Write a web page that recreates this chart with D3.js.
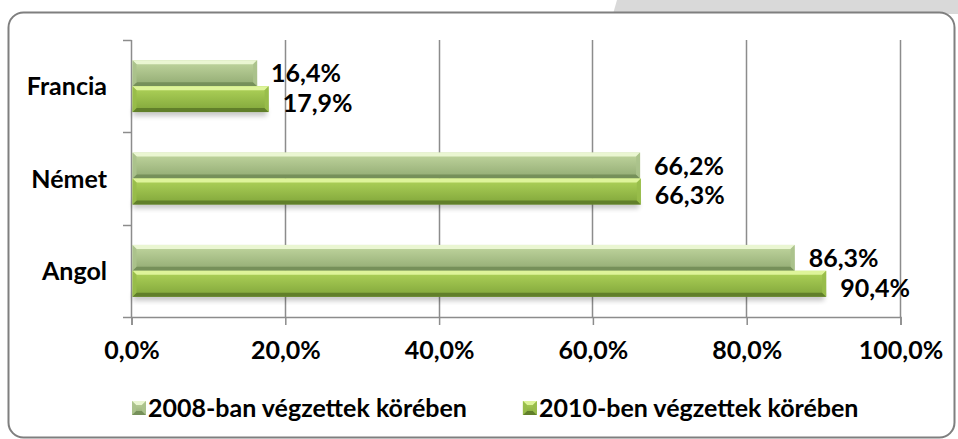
<!DOCTYPE html>
<html>
<head>
<meta charset="utf-8">
<script src="https://cdn.jsdelivr.net/npm/d3@7"></script>
<style>
  body { margin: 0; background: #fff; }
  svg { display: block; }
  text { font-family: Lato, "Open Sans", sans-serif; font-weight: 700; fill: #000; }
</style>
</head>
<body>
<div id="chart"></div>
<script>
const categories = ['Francia', 'Német', 'Angol'];
const series = ['2008-ban végzettek körében', '2010-ben végzettek körében'];
const values2008 = [16.4, 66.2, 86.3];
const values2010 = [17.9, 66.3, 90.4];
const xTicks = [0, 20, 40, 60, 80, 100];

const width = 958;
const height = 439;
const margin = { top: 40, right: 58, bottom: 122, left: 131 };
const innerW = width - margin.left - margin.right;
const innerH = height - margin.top - margin.bottom;
const fontSize = 25;

// bevel colours per series: top edge, face top, face bottom, bottom edge, side
const palette = [
  { hi: '#eaf6d2', f0: '#c2d7a0', f1: '#91aa72', lo: '#76905a', side: '#abc28c' },
  { hi: '#def49a', f0: '#b0d45a', f1: '#80a53a', lo: '#617f2a', side: '#98bd4a' },
];

const rows = categories.map((c, i) => ({
  category: c,
  values: [
    { key: series[0], s: 0, value: values2008[i] },
    { key: series[1], s: 1, value: values2010[i] },
  ],
}));

const svg = d3.select('#chart')
  .append('svg')
  .attr('width', width)
  .attr('height', height);

const defs = svg.append('defs');
palette.forEach((p, i) => {
  const g = defs.append('linearGradient')
    .attr('id', `face${i}`)
    .attr('x1', 0).attr('y1', 0).attr('x2', 0).attr('y2', 1);
  g.append('stop').attr('offset', '0%').attr('stop-color', p.f0);
  g.append('stop').attr('offset', '100%').attr('stop-color', p.f1);
});
defs.append('filter')
  .attr('id', 'shadow')
  .attr('x', '-10%').attr('y', '-50%').attr('width', '120%').attr('height', '200%')
  .append('feGaussianBlur')
  .attr('stdDeviation', 2.5);

// grey tab at top right + rounded frame
svg.append('path')
  .attr('d', 'M617,0 L958,0 L958,14 L613,14 Z')
  .attr('fill', '#d9d9d9');
svg.append('rect')
  .attr('x', 8.5).attr('y', 12.5)
  .attr('width', 946).attr('height', 425)
  .attr('rx', 15)
  .attr('fill', '#fff')
  .attr('stroke', '#7f7f7f')
  .attr('stroke-width', 2);

const plot = svg.append('g')
  .attr('transform', `translate(${margin.left}, ${margin.top})`);

const x = d3.scaleLinear()
  .domain([0, 100])
  .range([0, innerW]);

const y0 = d3.scaleBand()
  .domain(categories)
  .range([0, innerH]);

const y1 = d3.scaleBand()
  .domain(series)
  .range([0, y0.bandwidth()])
  .paddingOuter(0.78);

const fmt = v => d3.format('.1f')(v).replace('.', ',') + '%';

// gridlines
plot.append('g')
  .selectAll('line')
  .data(xTicks.slice(1))
  .join('line')
  .attr('x1', d => Math.round(x(d)) + 0.5)
  .attr('x2', d => Math.round(x(d)) + 0.5)
  .attr('y1', 0)
  .attr('y2', innerH)
  .attr('stroke', '#8c8c8c')
  .attr('stroke-width', 1.5);

// bottom axis
const axisBottom = d3.axisBottom(x)
  .tickValues(xTicks)
  .tickSize(8)
  .tickPadding(16)
  .tickFormat(fmt);

const gx = plot.append('g')
  .attr('transform', `translate(0.5, ${innerH})`)
  .call(axisBottom);
gx.select('.domain').attr('stroke', '#8c8c8c').attr('stroke-width', 1.5);
gx.selectAll('.tick line').attr('stroke', '#8c8c8c').attr('stroke-width', 1.5);
gx.selectAll('.tick text')
  .attr('font-size', fontSize)
  .attr('font-family', 'Lato, sans-serif')
  .attr('font-weight', 700)
  .attr('fill', '#000');

// left axis: ticks at band boundaries
const gy = plot.append('g');
gy.append('line')
  .attr('x1', 0.5).attr('x2', 0.5)
  .attr('y1', 0).attr('y2', innerH)
  .attr('stroke', '#8c8c8c').attr('stroke-width', 1.5);
gy.selectAll('.bnd')
  .data(categories.concat(['end']))
  .join('line')
  .attr('class', 'bnd')
  .attr('x1', -8).attr('x2', 0.5)
  .attr('y1', (d, i) => Math.round(i * y0.step()) + 0.5)
  .attr('y2', (d, i) => Math.round(i * y0.step()) + 0.5)
  .attr('stroke', '#8c8c8c').attr('stroke-width', 1.5);
gy.selectAll('.cat')
  .data(categories)
  .join('text')
  .attr('class', 'cat')
  .attr('x', -24)
  .attr('y', d => y0(d) + y0.bandwidth() / 2)
  .attr('dy', '0.36em')
  .attr('text-anchor', 'end')
  .attr('font-size', fontSize)
  .text(d => d);

// bars
function bevelBar(g, x0, yy, w, h, p, b, gradId) {
  const x1 = x0 + w;
  const y2 = yy + h;
  g.append('rect')
    .attr('x', x0).attr('y', yy).attr('width', w).attr('height', h)
    .attr('fill', `url(#${gradId})`);
  g.append('polygon')
    .attr('points', `${x0},${yy} ${x1},${yy} ${x1 - b},${yy + b} ${x0 + b},${yy + b}`)
    .attr('fill', p.hi);
  g.append('polygon')
    .attr('points', `${x0},${y2} ${x1},${y2} ${x1 - b},${y2 - b} ${x0 + b},${y2 - b}`)
    .attr('fill', p.lo);
  g.append('polygon')
    .attr('points', `${x1},${yy} ${x1},${y2} ${x1 - b},${y2 - b} ${x1 - b},${yy + b}`)
    .attr('fill', p.side).attr('opacity', 0.9);
  g.append('polygon')
    .attr('points', `${x0},${yy} ${x0},${y2} ${x0 + b},${y2 - b} ${x0 + b},${yy + b}`)
    .attr('fill', p.side).attr('opacity', 0.9);
}

const groups = plot.selectAll('.cat-group')
  .data(rows)
  .join('g')
  .attr('class', 'cat-group')
  .attr('transform', d => `translate(0, ${y0(d.category)})`);

// shadows
groups.each(function (d) {
  const g = d3.select(this);
  const last = d.values[1];
  g.append('rect')
    .attr('x', x(0) + 2)
    .attr('y', y1(last.key) + y1.bandwidth() - 4)
    .attr('width', Math.max(x(last.value) - 4, 0))
    .attr('height', 8)
    .attr('fill', '#000')
    .attr('opacity', 0.22)
    .attr('filter', 'url(#shadow)');
});

groups.each(function (d) {
  const g = d3.select(this);
  d.values.forEach(v => {
    bevelBar(g.append('g'), x(0) + 1.5, y1(v.key), x(v.value) - 1.5, y1.bandwidth(),
      palette[v.s], 4, `face${v.s}`);
  });
  g.selectAll('.val')
    .data(d.values)
    .join('text')
    .attr('class', 'val')
    .attr('x', v => x(v.value) + 14)
    .attr('y', v => y1(v.key) + y1.bandwidth() / 2 + (v.s === 0 ? 0 : 4))
    .attr('dy', '0.36em')
    .attr('font-size', fontSize)
    .text(v => fmt(v.value));
});

// legend
const legend = svg.append('g')
  .attr('transform', 'translate(132, 401)');
let lx = 0;
series.forEach((s, i) => {
  const item = legend.append('g').attr('transform', `translate(${lx}, 0)`);
  bevelBar(item, 0, 0, 14, 14, palette[i], 4, `face${i}`);
  const t = item.append('text')
    .attr('x', 16)
    .attr('y', 7)
    .attr('dy', '0.36em')
    .attr('font-size', fontSize)
    .text(s);
  lx += 16 + t.node().getComputedTextLength() + 56;
});
</script>
</body>
</html>
